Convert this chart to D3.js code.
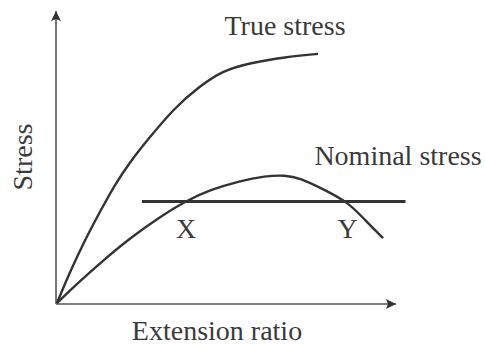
<!DOCTYPE html>
<html>
<head>
<meta charset="utf-8">
<script src="https://cdn.jsdelivr.net/npm/d3@7"></script>
<style>
  html, body { margin: 0; padding: 0; background: #fff; }
  svg { display: block; }
  text { font-family: "Liberation Serif", "Times New Roman", serif; fill: #3a3a3a; }
</style>
</head>
<body>
<svg id="chart" width="485" height="347"></svg>
<script>
// Schematic stress vs extension ratio (arbitrary units)
const trueX = [0, 0.38, 0.82, 1.26, 1.71, 2.15, 2.59, 3.47, 4.21, 4.85, 5.68, 6.71, 7.68];
const trueY = [0, 1.07, 2.17, 3.14, 4.10, 4.86, 5.52, 6.76, 7.48, 8.0, 8.28, 8.48, 8.59];

const nominalX = [0, 0.68, 1.41, 2.15, 3.03, 3.79, 4.5, 5.38, 6.12, 6.71, 7.15, 7.82, 8.56, 9.06, 9.59];
const nominalY = [0, 0.76, 1.52, 2.24, 2.97, 3.52, 3.9, 4.21, 4.38, 4.41, 4.31, 3.93, 3.48, 2.86, 2.24];

// Horizontal stress level cutting the nominal curve at X and Y
const levelStress = 3.5;
const levelX = [2.5, 10.25];
const crossings = [{ label: "X", x: 3.8 }, { label: "Y", x: 8.55 }];

const svg = d3.select("#chart");
const x = d3.scaleLinear().domain([0, 10]).range([57, 397]);
const y = d3.scaleLinear().domain([0, 10]).range([303, 13]);

const ink = "#333";

// Arrowhead marker for the axes
svg.append("defs").append("marker")
  .attr("id", "arrow")
  .attr("viewBox", "0 0 10 10")
  .attr("refX", 10).attr("refY", 5)
  .attr("markerUnits", "userSpaceOnUse")
  .attr("markerWidth", 11).attr("markerHeight", 10)
  .attr("orient", "auto")
  .append("path")
  .attr("d", "M0,0 L10,5 L0,10 L2,5 Z")
  .attr("fill", ink);

// Axes
svg.append("line")
  .attr("x1", x(0) - 1).attr("y1", y(0) + 1)
  .attr("x2", x(10) - 1).attr("y2", y(0) + 1)
  .attr("stroke", "#555").attr("stroke-width", 1.6)
  .attr("marker-end", "url(#arrow)");
svg.append("line")
  .attr("x1", x(0) - 1).attr("y1", y(0) + 1)
  .attr("x2", x(0) - 1).attr("y2", y(10) - 2)
  .attr("stroke", "#555").attr("stroke-width", 1.6)
  .attr("marker-end", "url(#arrow)");

// Smooth B-spline through the sampled points
const line = d3.line()
  .x(d => x(d[0]))
  .y(d => y(d[1]))
  .curve(d3.curveBasis);

const trueData = trueX.map((v, i) => [v, trueY[i]]);
const nominalData = nominalX.map((v, i) => [v, nominalY[i]]);

svg.append("path")
  .attr("d", line(trueData))
  .attr("fill", "none").attr("stroke", ink).attr("stroke-width", 2.4);

svg.append("path")
  .attr("d", line(nominalData))
  .attr("fill", "none").attr("stroke", ink).attr("stroke-width", 2.4);

svg.append("line")
  .attr("x1", x(levelX[0])).attr("x2", x(levelX[1]))
  .attr("y1", y(levelStress)).attr("y2", y(levelStress))
  .attr("stroke", ink).attr("stroke-width", 3.2);

// Labels
svg.append("text")
  .attr("x", 285).attr("y", 35)
  .attr("text-anchor", "middle").attr("font-size", 28)
  .text("True stress");

svg.append("text")
  .attr("x", 398).attr("y", 165)
  .attr("text-anchor", "middle").attr("font-size", 28)
  .text("Nominal stress");

svg.selectAll("text.cross")
  .data(crossings)
  .enter().append("text")
  .attr("class", "cross")
  .attr("x", d => x(d.x))
  .attr("y", y(levelStress) + 36)
  .attr("text-anchor", "middle").attr("font-size", 28)
  .text(d => d.label);

svg.append("text")
  .attr("x", 217).attr("y", 340)
  .attr("text-anchor", "middle").attr("font-size", 28)
  .text("Extension ratio");

svg.append("text")
  .attr("transform", "translate(32,157) rotate(-90)")
  .attr("text-anchor", "middle").attr("font-size", 28)
  .text("Stress");
</script>
</body>
</html>
